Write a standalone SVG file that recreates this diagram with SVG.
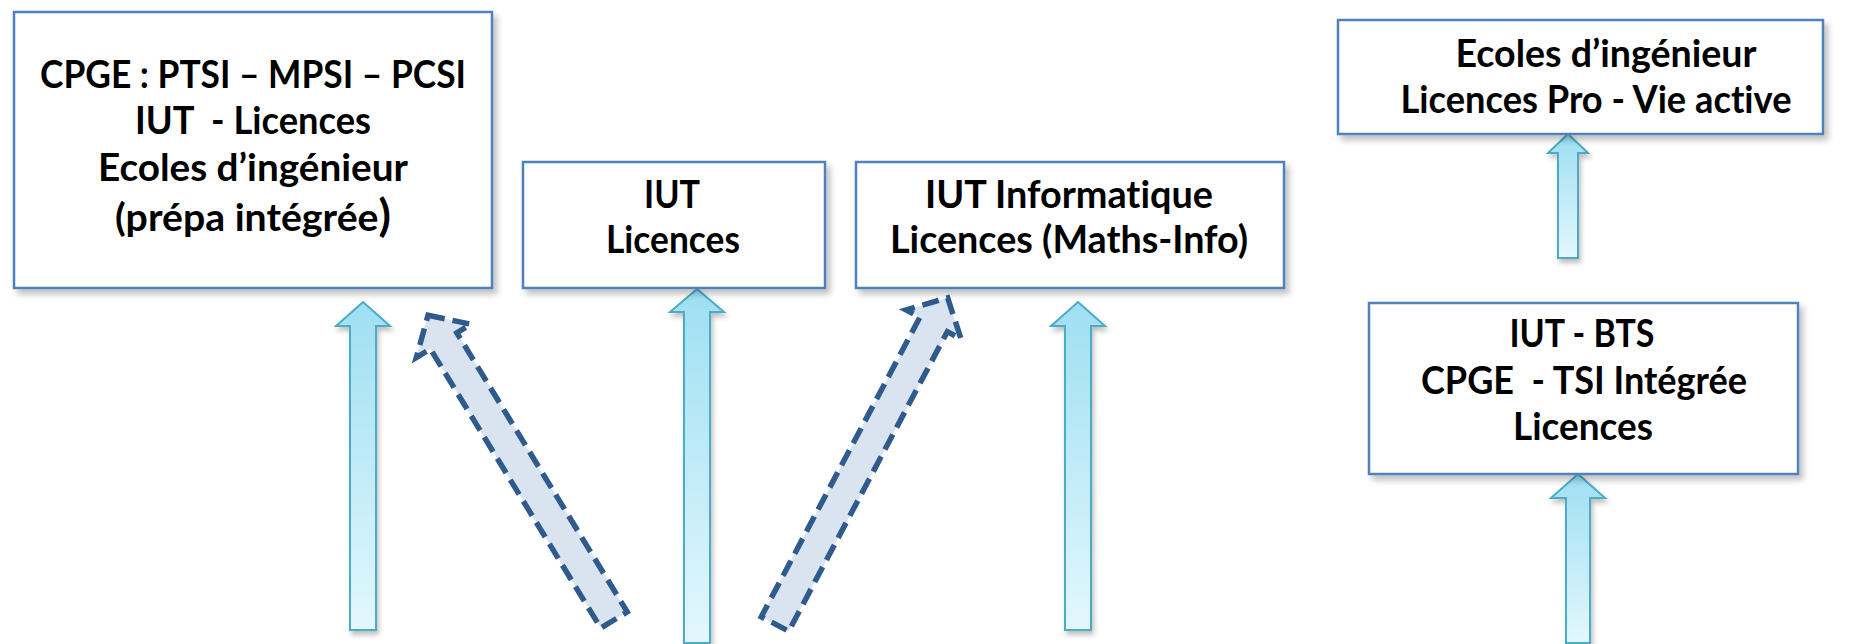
<svg xmlns="http://www.w3.org/2000/svg" width="1856" height="644" viewBox="0 0 1856 644">
<style>
.box{fill:#ffffff;stroke:#4F81BD;stroke-width:2.5;filter:url(#sh)}
.t{font-family:Lato,"Open Sans","Liberation Sans",sans-serif;font-weight:700;font-size:38px;fill:#000;text-anchor:middle;font-variant-ligatures:none}
.up{fill:url(#cy);stroke:#4BACC6;stroke-width:2;filter:url(#sh2)}
.dash{fill:#DAE3F0;stroke:#2F5B8C;stroke-width:5.5;stroke-dasharray:17 8;stroke-linejoin:miter}
</style>
<defs>
<filter id="sh" x="-10%" y="-10%" width="125%" height="130%">
<feGaussianBlur in="SourceAlpha" stdDeviation="3"/>
<feOffset dx="4" dy="5" result="b"/>
<feComponentTransfer><feFuncA type="linear" slope="0.25"/></feComponentTransfer>
<feMerge><feMergeNode/><feMergeNode in="SourceGraphic"/></feMerge>
</filter>
<filter id="sh2" x="-30%" y="-10%" width="170%" height="125%">
<feGaussianBlur in="SourceAlpha" stdDeviation="2.5"/>
<feOffset dx="2" dy="4"/>
<feComponentTransfer><feFuncA type="linear" slope="0.25"/></feComponentTransfer>
<feMerge><feMergeNode/><feMergeNode in="SourceGraphic"/></feMerge>
</filter>
<linearGradient id="cy" x1="0" y1="0" x2="0" y2="1">
<stop offset="0" stop-color="#9EDFF2"/>
<stop offset="1" stop-color="#E3F7FD"/>
</linearGradient>
</defs>

<g id="connectors">
<path class="up" d="M363,302 L390,326 L376,326 L376,630 L350,630 L350,326 L336,326 Z"/>
<path class="up" d="M697,289 L724,312 L710,312 L710,643 L684,643 L684,312 L670,312 Z"/>
<path class="up" d="M1078,302 L1105,326 L1091,326 L1091,630 L1065,630 L1065,326 L1051,326 Z"/>
<path class="up" d="M1568,134 L1588,153 L1578,153 L1578,258 L1558,258 L1558,153 L1548,153 Z"/>
<path class="up" d="M1578,474 L1605,498 L1590,498 L1590,643 L1566,643 L1566,498 L1551,498 Z"/>
<path class="dash" transform="translate(614,620) rotate(-31.4)" d="M0,-357 L32,-327 L15.5,-327 L15.5,0 L-15.5,0 L-15.5,-327 L-32,-327 Z"/>
<path class="dash" transform="translate(775,624) rotate(27.9)" d="M0,-369 L31,-339 L15.5,-339 L15.5,0 L-15.5,0 L-15.5,-339 L-31,-339 Z"/>
</g>

<g id="node1">
<rect class="box" x="14" y="12" width="478" height="276"/>
<text class="t" x="253" y="88" textLength="426" lengthAdjust="spacingAndGlyphs">CPGE : PTSI – MPSI – PCSI</text>
<text class="t" x="253" y="134" textLength="236" lengthAdjust="spacingAndGlyphs" xml:space="preserve">IUT  - Licences</text>
<text class="t" x="253" y="181" textLength="310" lengthAdjust="spacingAndGlyphs">Ecoles d’ingénieur</text>
<text class="t" x="253" y="231" textLength="276" lengthAdjust="spacingAndGlyphs">(prépa intégrée<tspan font-size="44">)</tspan></text>
</g>

<g id="node2">
<rect class="box" x="523" y="162" width="302" height="126"/>
<text class="t" x="672" y="208" textLength="56" lengthAdjust="spacingAndGlyphs">IUT</text>
<text class="t" x="673" y="253" textLength="134" lengthAdjust="spacingAndGlyphs">Licences</text>
</g>

<g id="node3">
<rect class="box" x="856" y="162" width="428" height="126"/>
<text class="t" x="1069" y="208" textLength="288" lengthAdjust="spacingAndGlyphs">IUT Informatique</text>
<text class="t" x="1069" y="253" textLength="358" lengthAdjust="spacingAndGlyphs">Licences (Maths-Info)</text>
</g>

<g id="node4">
<rect class="box" x="1338" y="20" width="485" height="114"/>
<text class="t" x="1606" y="67" textLength="301" lengthAdjust="spacingAndGlyphs">Ecoles d’ingénieur</text>
<text class="t" x="1596" y="113" textLength="391" lengthAdjust="spacingAndGlyphs">Licences Pro - Vie active</text>
</g>

<g id="node5">
<rect class="box" x="1369" y="303" width="429" height="171"/>
<text class="t" x="1582" y="347" textLength="145" lengthAdjust="spacingAndGlyphs">IUT - BTS</text>
<text class="t" x="1584" y="394" textLength="326" lengthAdjust="spacingAndGlyphs" xml:space="preserve">CPGE  - TSI Intégrée</text>
<text class="t" x="1583" y="440" textLength="140" lengthAdjust="spacingAndGlyphs">Licences</text>
</g>
</svg>
